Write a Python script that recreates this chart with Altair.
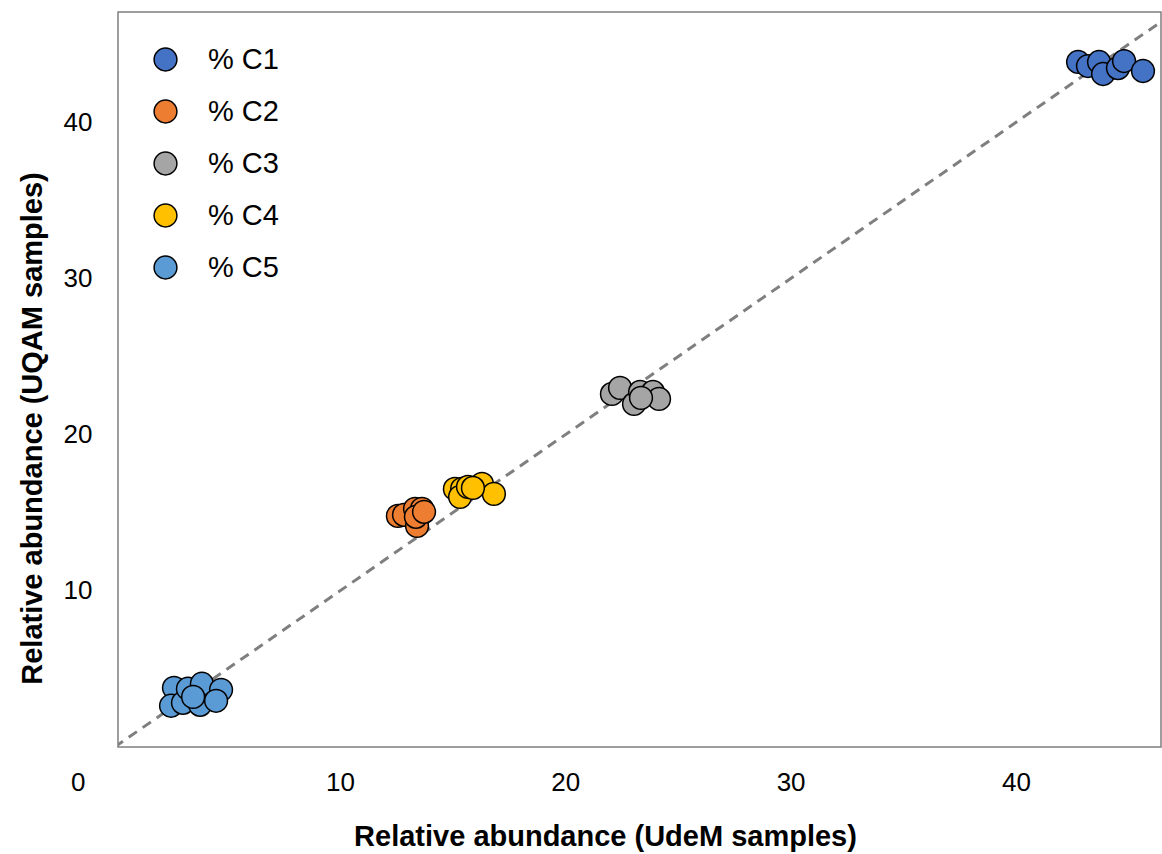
import altair as alt
import pandas as pd

# Composition groups and their colours
groups = ["% C1", "% C2", "% C3", "% C4", "% C5"]
colors = ["#4472C4", "#ED7D31", "#A5A5A5", "#FFC000", "#5B9BD5"]

# Relative abundance measured at UdeM (x) and UQAM (y) for each sample
c1_udem = [42.76, 43.20, 43.69, 43.87, 44.53, 44.80, 45.64]
c1_uqam = [43.87, 43.61, 43.87, 43.10, 43.48, 43.93, 43.29]

c2_udem = [12.57, 12.84, 13.33, 13.64, 13.42, 13.37, 13.73]
c2_uqam = [14.80, 14.87, 15.25, 15.25, 14.16, 14.74, 15.06]

c3_udem = [22.07, 22.43, 23.05, 23.32, 23.89, 24.16, 23.36]
c3_uqam = [22.61, 23.00, 21.97, 22.74, 22.74, 22.29, 22.36]

c4_udem = [15.10, 15.42, 15.33, 15.68, 16.30, 16.83, 15.90]
c4_uqam = [16.53, 16.53, 16.02, 16.66, 16.85, 16.21, 16.59]

c5_udem = [2.63, 2.50, 3.03, 3.25, 3.87, 3.79, 3.48, 4.72, 4.50]
c5_uqam = [3.79, 2.64, 2.83, 3.73, 4.05, 2.70, 3.21, 3.66, 2.96]

# Axis ticks
x_ticks = [10, 20, 30, 40]
y_ticks = [0, 10, 20, 30, 40]

series = [
    (groups[0], c1_udem, c1_uqam),
    (groups[1], c2_udem, c2_uqam),
    (groups[2], c3_udem, c3_uqam),
    (groups[3], c4_udem, c4_uqam),
    (groups[4], c5_udem, c5_uqam),
]
rows = []
for name, xs, ys in series:
    for xv, yv in zip(xs, ys):
        rows.append({"group": name, "udem": xv, "uqam": yv})
points_df = pd.DataFrame(rows)

# y = x reference line
identity_df = pd.DataFrame({"udem": [0, 50], "uqam": [0, 50]})

FONT = "Liberation Sans"

x_scale = alt.Scale(domain=[0.146, 46.44], nice=False, zero=False)
y_scale = alt.Scale(domain=[0, 47.07], nice=False, zero=False)

x_axis = alt.Axis(
    values=x_ticks,
    domain=False,
    ticks=False,
    grid=False,
    labelFontSize=26,
    labelPadding=22,
    labelColor="black",
    title="Relative abundance (UdeM samples)",
    titleFontSize=29,
    titleFontWeight="bold",
    titleColor="black",
    titleX=487,
    titleY=98,
    titleAlign="center",
    titleBaseline="alphabetic",
)

y_axis = alt.Axis(
    values=y_ticks,
    domain=False,
    ticks=False,
    grid=False,
    labelFontSize=26,
    labelColor="black",
    labelPadding={"condition": {"test": "datum.value == 0", "value": 33}, "value": 26},
    labelOffset={"condition": {"test": "datum.value == 0", "value": 35}, "value": 0},
    title="Relative abundance (UQAM samples)",
    titleFontSize=29,
    titleFontWeight="bold",
    titleColor="black",
    titleAngle=270,
    titleX=-77,
    titleY=416,
    titleAlign="center",
    titleBaseline="alphabetic",
)

line = alt.Chart(identity_df).mark_line(
    color="#7f7f7f", strokeWidth=3, strokeDash=[10, 7], clip=True
).encode(
    x=alt.X("udem:Q", scale=x_scale, axis=x_axis),
    y=alt.Y("uqam:Q", scale=y_scale, axis=y_axis),
)

points = alt.Chart(points_df).mark_circle(
    size=520, stroke="black", strokeWidth=1.5, opacity=1
).encode(
    x=alt.X("udem:Q", scale=x_scale, axis=x_axis),
    y=alt.Y("uqam:Q", scale=y_scale, axis=y_axis),
    fill=alt.Fill(
        "group:N",
        scale=alt.Scale(domain=groups, range=colors),
        legend=alt.Legend(
            title=None,
            orient="none",
            legendX=33,
            legendY=33,
            padding=0,
            symbolType="circle",
            symbolSize=520,
            symbolStrokeColor="black",
            symbolStrokeWidth=1.5,
            symbolOpacity=1,
            labelFontSize=29,
            labelColor="black",
            labelOffset=28,
            rowPadding=22,
        ),
    ),
)

chart = (
    alt.layer(line, points)
    .properties(
        width=1043,
        height=735,
        autosize=alt.AutoSizeParams(type="none"),
        padding={"left": 118, "top": 12, "right": 1, "bottom": 107},
    )
    .configure(font=FONT)
    .configure_view(stroke="#7f7f7f", strokeWidth=1.5)
)

chart.save("out.html", embed_options={"renderer": "svg", "actions": False})
